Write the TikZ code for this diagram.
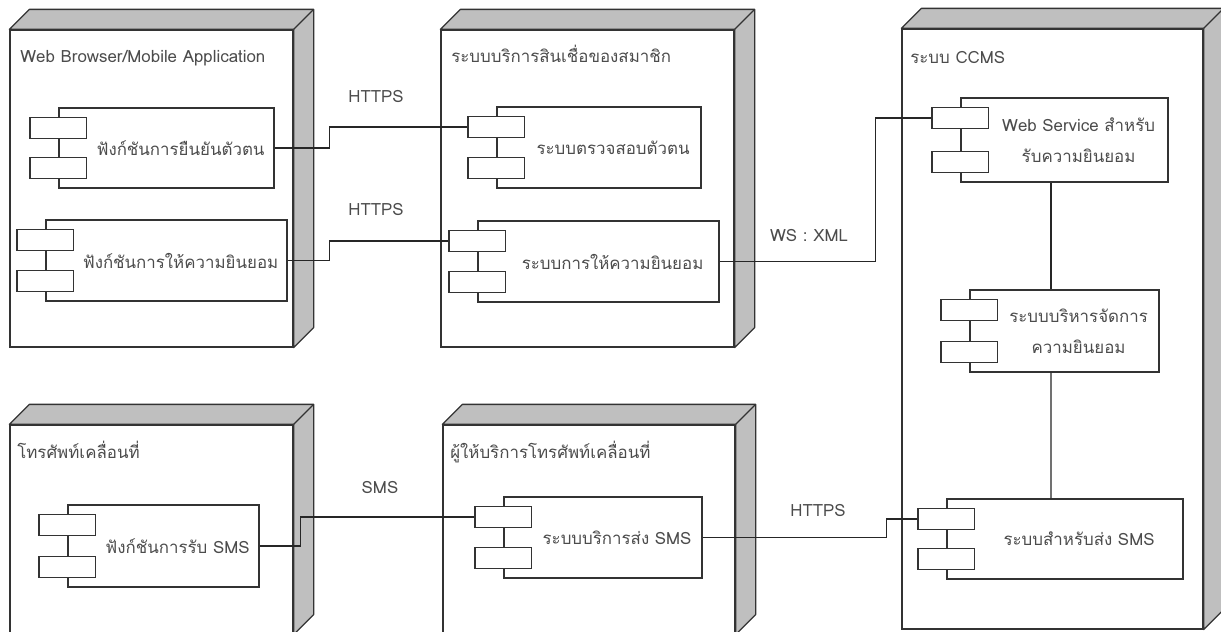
\documentclass[tikz,border=0pt]{standalone}
\usepackage{fontspec}
\newfontfamily\thaifont[Script=Thai]{Loma}
\usetikzlibrary{fit}

\tikzset{
  dev/.style={draw=black!80, line width=0.9pt, fill=white, inner sep=0pt},
  devface/.style={draw=black!80, line width=0.9pt, fill=black!25, line join=round},
  comp/.style={draw=black!80, line width=0.8pt, fill=white, inner sep=0pt},
  port/.style={draw=black!80, line width=0.8pt, fill=white, inner sep=0pt,
    minimum width=40.5pt, minimum height=14.4pt},
  txt/.style={font=\thaifont\fontsize{12}{22}\selectfont, text=black!70, inner sep=0pt},
  wire/.style={draw=black!85, line width=0.8pt},
}
\newcommand\device[3]{%
  \node[dev, fit={#2 #3}] (#1) {};
  \draw[devface] (#1.north west) -- ([shift={(20,-20)}]#1.north west)
    -- ([shift={(20,-20)}]#1.north east) -- ([shift={(20,-20)}]#1.south east)
    -- (#1.south east) -- (#1.north east) -- cycle;
  \draw[devface] (#1.north east) -- ([shift={(20,-20)}]#1.north east);
}
\newcommand\comp[4]{%
  \node[comp, fit={#2 #3}, label={[txt, xshift=10pt, align=center]center:#4}] (#1) {};
  \node[port] (#1a) at ([yshift=-14.6pt]#1.north west) {};
  \node[port] (#1b) at ([yshift=14.6pt]#1.south west) {};
}

\begin{document}
\begin{tikzpicture}[x=0.025cm, y=-0.025cm]
\useasboundingbox (0,0) rectangle (1221,631);
\clip (0,0) rectangle (1221,631);

\device{web}{(10,30)}{(293,347)}
\device{credit}{(441,30)}{(734,347)}
\device{ccms}{(902,29)}{(1203,629)}
\device{phone}{(10,425)}{(293,634)}
\device{operator}{(443,425)}{(735,634)}

\node[txt, anchor=base west] (webT) at (20,62) {Web Browser/Mobile Application};
\node[txt, anchor=base west] (creditT) at (451,62) {ระบบบริการสินเชื่อของสมาชิก};
\node[txt, anchor=base west] (ccmsT) at (910,63) {ระบบ CCMS};
\node[txt, anchor=base west] (phoneT) at (17,458) {โทรศัพท์เคลื่อนที่};
\node[txt, anchor=base west] (operatorT) at (450,458) {ผู้ให้บริการโทรศัพท์เคลื่อนที่};

\comp{auth}{(59,108)}{(274,188)}{ฟังก์ชันการยืนยันตัวตน}
\comp{consent}{(46,220)}{(287,301)}{ฟังก์ชันการให้ความยินยอม}
\comp{verify}{(497,107)}{(701,188)}{ระบบตรวจสอบตัวตน}
\comp{grant}{(478,221)}{(719,302)}{ระบบการให้ความยินยอม}
\comp{ws}{(961,98)}{(1168,182)}{Web Service สำหรับ\\รับความยินยอม}
\comp{manage}{(970,290)}{(1159,372)}{ระบบบริหารจัดการ\\ความยินยอม}
\comp{sender}{(947,499)}{(1183,579)}{ระบบสำหรับส่ง SMS}
\comp{recv}{(68,505)}{(259,587)}{ฟังก์ชันการรับ SMS}
\comp{gateway}{(504,497)}{(702,578)}{ระบบบริการส่ง SMS}

\draw[wire] (auth.east) -- ++(55,0) |- (verifya.west);
\draw[wire] (consent.east) -- ++(42,0) |- (granta.west);
\draw[wire] (grant.east) -- ++(156,0) |- (wsa.west);
\draw[wire] (recv.east) -- ++(41,0) |- (gatewaya.west);
\draw[wire] (gateway.east) -- ++(184,0) |- (sendera.west);
\draw[wire] ([xshift=-9.6pt]ws.south) -- ([xshift=-9.6pt]manage.north);
\draw[wire] ([xshift=-9.6pt]manage.south) -- ([xshift=-10pt]sender.north);

\node[txt] (https1) at (376,96) {HTTPS};
\node[txt] (https2) at (376,209) {HTTPS};
\node[txt] (wsxml) at (809,235) {WS : XML};
\node[txt] (sms) at (380,487) {SMS};
\node[txt] (https3) at (818,510) {HTTPS};
\end{tikzpicture}
\end{document}
